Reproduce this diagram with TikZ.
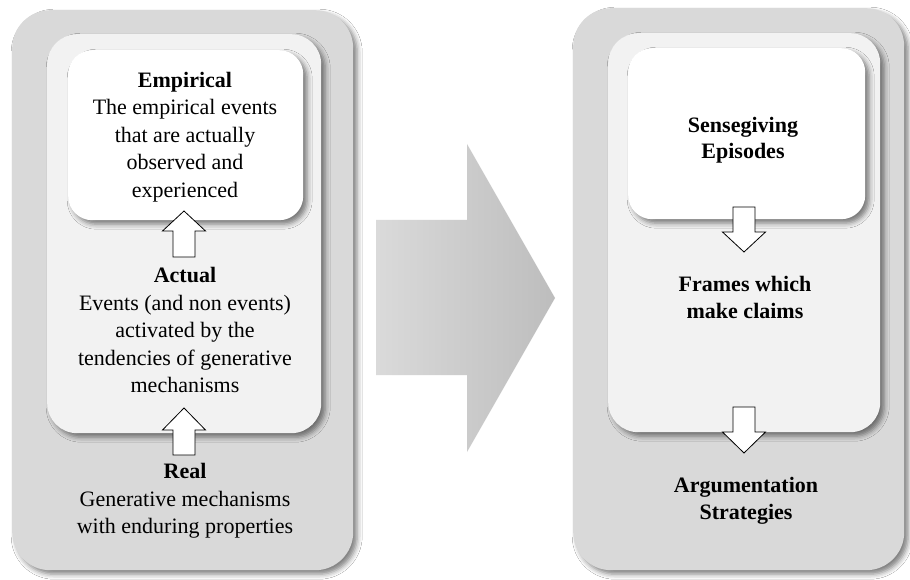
\documentclass[tikz,border=0pt]{standalone}
\usepackage{fontspec}
\setmainfont{Liberation Serif}
\usetikzlibrary{shadows.blur}
\definecolor{outerg}{HTML}{D9D9D9}
\definecolor{midg}{HTML}{F2F2F2}
\definecolor{arrL}{HTML}{DADADA}
\definecolor{arrR}{HTML}{BDBDBD}
\begin{document}
\begin{tikzpicture}[x=1pt,y=-1pt,
  shd/.style={blur shadow={shadow xshift=4pt, shadow yshift=-4pt, shadow blur radius=5pt, shadow opacity=50}},
  outerbox/.style={shd, fill=outerg, draw=none, rounded corners=38pt, anchor=north west, inner sep=0pt},
  midbox/.style={shd, fill=midg, draw=none, rounded corners=30pt, anchor=north west, inner sep=0pt},
  whitebox/.style={shd, fill=white, draw=none, rounded corners=24pt, anchor=north west, inner sep=0pt},
  txt/.style={align=center, inner sep=0pt, font=\fontsize{22}{27.5}\selectfont},
  hollow/.style={draw=black, fill=white, line width=0.8pt, line join=miter},
]
\useasboundingbox (0,0) rectangle (910,580);
\fill[white] (0,0) rectangle (910,580);

% left panel
\node[outerbox, minimum width=341pt, minimum height=560pt] (outerL) at (12,10) {};
\node[midbox, minimum width=274pt, minimum height=399pt] (midL) at (47,34) {};
\node[whitebox, minimum width=235pt, minimum height=170pt] (whiteL) at (68,50) {};

% right panel
\node[outerbox, minimum width=331pt, minimum height=562pt] (outerR) at (573,8) {};
\node[midbox, minimum width=272pt, minimum height=399pt] (midR) at (608,33) {};
\node[whitebox, minimum width=237pt, minimum height=171pt] (whiteR) at (628,48) {};

% big arrow
\shade[left color=arrL, right color=arrR] (376,220) -- (467,220) -- (467,144) -- (555,298) -- (467,452) -- (467,375) -- (376,375) -- cycle;

% hollow up arrows (left)
\coordinate (ua1) at (184,257);
\coordinate (ua2) at (184,455);
\draw[hollow] (ua1) ++(-11,0) -- ++(0,-26) -- ++(-10.5,0) -- ++(21.5,-20) -- ++(21.5,20) -- ++(-10.5,0) -- ++(0,26) -- cycle;
\draw[hollow] (ua2) ++(-11,0) -- ++(0,-25) -- ++(-10.5,0) -- ++(21.5,-22) -- ++(21.5,22) -- ++(-10.5,0) -- ++(0,25) -- cycle;

% hollow down arrows (right)
\coordinate (da1) at (744,207);
\coordinate (da2) at (744,407);
\draw[hollow] (da1) ++(-11,0) -- ++(0,25) -- ++(-10.5,0) -- ++(21.5,20) -- ++(21.5,-20) -- ++(-10.5,0) -- ++(0,-25) -- cycle;
\draw[hollow] (da2) ++(-11,0) -- ++(0,25) -- ++(-10.5,0) -- ++(21.5,21) -- ++(21.5,-21) -- ++(-10.5,0) -- ++(0,-25) -- cycle;

% texts left
\node[txt] (emp) at (185,137) {\textbf{Empirical}\\The empirical events\\that are actually\\observed and\\experienced};
\node[txt] (act) at (185,330) {\textbf{Actual}\\Events (and non events)\\activated by the\\tendencies of generative\\mechanisms};
\node[txt] (real) at (185,501) {\textbf{Real}\\Generative mechanisms\\with enduring properties};

% texts right
\node[txt, font=\fontsize{22}{26.5}\bfseries] (sense) at (743,140) {Sensegiving\\Episodes};
\node[txt, font=\fontsize{22}{27}\bfseries] (frames) at (745,297) {Frames which\\make claims};
\node[txt, font=\fontsize{22}{27}\bfseries] (argu) at (746,501) {Argumentation\\Strategies};
\end{tikzpicture}
\end{document}
